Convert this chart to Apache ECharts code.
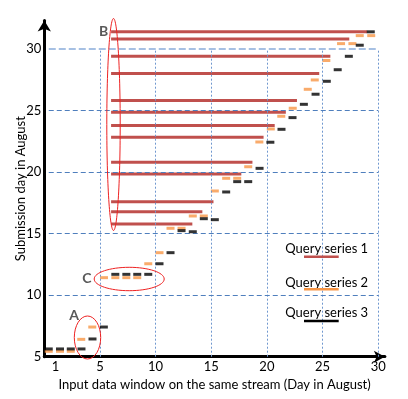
<!DOCTYPE html>
<html>
<head>
<meta charset="utf-8">
<script src="https://cdn.jsdelivr.net/npm/echarts@6/dist/echarts.min.js"></script>
<style>
  html, body { margin: 0; padding: 0; background: #fff; }
  #chart { width: 408px; height: 399px; }
</style>
</head>
<body>
<div id="chart"></div>
<script>
const xTicks = [1, 5, 10, 15, 20, 25, 30];
const yTicks = [5, 10, 15, 20, 25, 30];
const gridDays = [5, 10, 15, 20, 25, 30];
const gridSubmit = [10, 15, 20, 25];

// Query series 1: windows starting on day 6, growing with the submission day
const s1Submit = [31.4, 30.8, 29.4, 28.0, 25.8, 24.85, 23.77, 22.82, 20.79, 19.83, 17.59, 16.78, 15.78];
const s1Start = [6, 6, 6, 6, 6, 6, 6, 6, 6, 6, 6, 6, 6];
const s1End = [29.0, 27.4, 25.7, 24.7, 22.7, 21.7, 20.7, 19.7, 18.7, 17.7, 15.2, 14.2, 13.3];

// Query series 2 (orange dashes)
const s2Day = [0.4, 1.41, 2.38, 3.32, 4.31, 5.36, 6.38, 7.37, 8.35, 9.34, 10.35, 11.34, 12.33, 13.34, 14.33,
  15.32, 16.34, 17.33, 18.32, 19.32, 20.35, 21.29, 22.32, 23.67, 24.3, 25.34, 26.66, 27.68, 28.34, 29.37];
const s2Submit = [5.44, 5.44, 5.44, 6.41, 7.41, 11.42, 11.42, 11.42, 11.42, 12.55, 13.45, 15.43, 15.43, 16.43, 16.43,
  18.46, 19.49, 19.49, 20.43, 22.44, 23.5, 24.53, 25.18, 26.72, 27.48, 29.06, 30.43, 30.43, 31.08, 31.08];

// Query series 3 (black dashes)
const s3Day = [0.4, 1.41, 2.38, 3.34, 4.33, 5.35, 6.38, 7.37, 8.35, 9.34, 10.35, 11.34, 12.33, 13.34, 14.33,
  15.32, 16.34, 17.33, 18.32, 19.34, 20.31, 21.31, 22.3, 23.32, 24.37, 25.38, 26.36, 27.36, 28.34, 29.33];
const s3Submit = [5.63, 5.63, 5.63, 5.63, 6.44, 7.41, 11.69, 11.69, 11.69, 11.69, 12.55, 13.45, 15.24, 15.15, 16.21,
  16.13, 18.38, 19.22, 19.22, 20.3, 22.42, 23.47, 24.42, 25.5, 26.32, 27.37, 28.31, 29.4, 30.3, 31.39];

const FONT = 'Lato, "Open Sans", sans-serif';

const chart = echarts.init(document.getElementById('chart'), null, { renderer: 'canvas' });

const gridLines = [];
gridDays.forEach(function (d) {
  gridLines.push([
    { coord: [d, 5], lineStyle: { color: '#6f97cf', width: 1, type: [2, 2] } },
    { coord: [d, 30] }
  ]);
});
gridSubmit.forEach(function (v) {
  gridLines.push([
    { coord: [0.4, v], lineStyle: { color: '#4f7fbd', width: 1, type: [5, 3] } },
    { coord: [30, v] }
  ]);
});
gridLines.push([
  { coord: [0.4, 30], lineStyle: { color: '#a6c0e3', width: 2, type: [7, 3] } },
  { coord: [30, 30] }
]);

const option = {
  backgroundColor: '#fff',
  animation: false,
  textStyle: { fontFamily: FONT, color: '#000' },
  grid: { left: 44.3, right: 23.1, top: 20.6, bottom: 42.3 },
  xAxis: {
    type: 'value',
    min: 0,
    max: 30.6,
    axisLine: {
      onZero: false,
      symbol: ['none', 'arrow'],
      symbolSize: [9, 11],
      lineStyle: { color: '#000', width: 3 }
    },
    axisTick: { show: false },
    splitLine: { show: false },
    axisLabel: { customValues: xTicks, margin: 4, fontSize: 13, color: '#000', fontFamily: FONT },
    name: 'Input data window on the same stream (Day in August)',
    nameLocation: 'middle',
    nameGap: 20,
    nameTextStyle: { fontSize: 13, color: '#000', fontFamily: FONT }
  },
  yAxis: {
    type: 'value',
    min: 5,
    max: 32.3,
    axisLine: {
      onZero: false,
      symbol: ['none', 'arrow'],
      symbolSize: [10, 11],
      lineStyle: { color: '#000', width: 3 }
    },
    axisTick: { show: false },
    splitLine: { show: false },
    axisLabel: { customValues: yTicks, margin: 3, fontSize: 13, color: '#000', fontFamily: FONT },
    name: 'Submission day in August',
    nameLocation: 'middle',
    nameGap: 17,
    nameMoveOverlap: false,
    nameTextStyle: { fontSize: 13, color: '#000', fontFamily: FONT }
  },
  series: [
    {
      type: 'line',
      data: [],
      silent: true,
      z: 1,
      markLine: {
        silent: true,
        symbol: ['none', 'none'],
        label: { show: false },
        emphasis: { disabled: true },
        data: gridLines
      }
    },
    {
      name: 'Query series 1',
      type: 'custom',
      z: 3,
      silent: true,
      encode: { x: [0, 1], y: 2 },
      data: s1Start.map(function (s, i) { return [s, s1End[i], s1Submit[i]]; }),
      renderItem: function (params, api) {
        const a = api.coord([api.value(0), api.value(2)]);
        const b = api.coord([api.value(1), api.value(2)]);
        return {
          type: 'line',
          shape: { x1: a[0], y1: a[1], x2: b[0], y2: b[1] },
          style: { stroke: '#c0504d', lineWidth: 3 }
        };
      }
    },
    {
      name: 'Query series 2',
      type: 'scatter',
      z: 4,
      silent: true,
      symbol: 'rect',
      symbolSize: [8, 3],
      itemStyle: { color: '#f79646' },
      data: s2Day.map(function (d, i) { return [d, s2Submit[i]]; })
    },
    {
      name: 'Query series 3',
      type: 'scatter',
      z: 5,
      silent: true,
      symbol: 'rect',
      symbolSize: [8, 3],
      itemStyle: { color: '#000' },
      data: s3Day.map(function (d, i) { return [d, s3Submit[i]]; })
    }
  ],
  graphic: [
    // legend
    { type: 'text', x: 326.7, y: 249, z: 10, style: { text: 'Query series 1', font: '13px ' + FONT, fill: '#000', align: 'center', verticalAlign: 'middle' } },
    { type: 'line', z: 11, shape: { x1: 304, y1: 256.7, x2: 338.7, y2: 256.7 }, style: { stroke: '#c0504d', lineWidth: 2.5 } },
    { type: 'text', x: 326.7, y: 282.7, z: 10, style: { text: 'Query series 2', font: '13px ' + FONT, fill: '#000', align: 'center', verticalAlign: 'middle' } },
    { type: 'line', z: 11, shape: { x1: 304, y1: 289.3, x2: 338.7, y2: 289.3 }, style: { stroke: '#f79646', lineWidth: 2.5 } },
    { type: 'text', x: 326.7, y: 313.3, z: 10, style: { text: 'Query series 3', font: '13px ' + FONT, fill: '#000', align: 'center', verticalAlign: 'middle' } },
    { type: 'line', z: 11, shape: { x1: 304, y1: 321, x2: 338.7, y2: 321 }, style: { stroke: '#000', lineWidth: 2.5 } },
    // annotations
    { type: 'text', x: 74, y: 315, z: 10, style: { text: 'A', font: 'bold 14px ' + FONT, fill: '#595959', align: 'center', verticalAlign: 'middle' } },
    { type: 'text', x: 103.7, y: 31, z: 10, style: { text: 'B', font: 'bold 14px ' + FONT, fill: '#595959', align: 'center', verticalAlign: 'middle' } },
    { type: 'text', x: 87, y: 278, z: 10, style: { text: 'C', font: 'bold 14px ' + FONT, fill: '#595959', align: 'center', verticalAlign: 'middle' } },
    { type: 'ellipse', z: 10, shape: { cx: 87.5, cy: 337.5, rx: 13.2, ry: 21.5 }, style: { fill: 'none', stroke: '#ee2222', lineWidth: 1 } },
    { type: 'ellipse', z: 10, shape: { cx: 113.5, cy: 124.5, rx: 6.7, ry: 106 }, style: { fill: 'none', stroke: '#ee2222', lineWidth: 1 } },
    { type: 'ellipse', z: 10, shape: { cx: 129.2, cy: 279, rx: 35, ry: 11.7 }, style: { fill: 'none', stroke: '#ee2222', lineWidth: 1 } }
  ]
};

chart.setOption(option);
</script>
</body>
</html>
